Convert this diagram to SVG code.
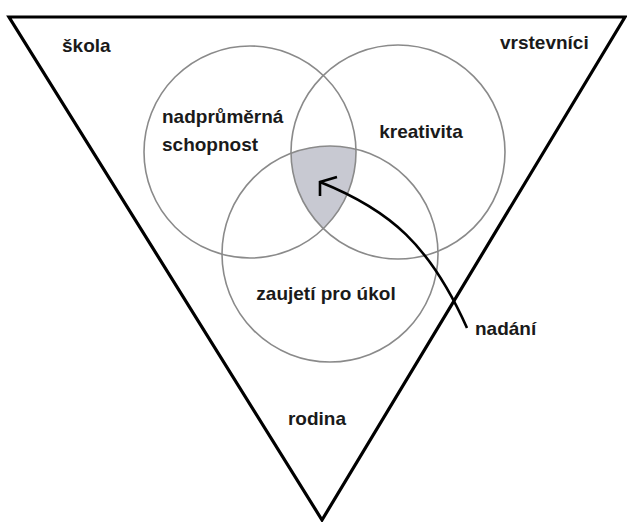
<svg xmlns="http://www.w3.org/2000/svg" width="627" height="522" viewBox="0 0 627 522">
<style>
.lbl{font-family:"Liberation Sans",Arial,sans-serif;font-weight:bold;font-size:19px;fill:#1a1a1a}
.circ{fill:none;stroke:#8a8a8a;stroke-width:1.6}
</style>
<rect width="627" height="522" fill="#ffffff"/>
<g id="triangle">
<polygon points="9,17 625,17 322,520" fill="#ffffff" stroke="#000" stroke-width="3.2" stroke-linejoin="miter"/>
<text class="lbl" x="62" y="52">škola</text>
<text class="lbl" x="500" y="49">vrstevníci</text>
<text class="lbl" x="317" y="425" text-anchor="middle">rodina</text>
</g>
<g id="shaded">
<path d="M291,153.3 A108,108 0 0,1 356,149.2 A106,106 0 0,1 323.3,228.6 A107,107 0 0,1 291,153.3 Z" fill="#c8c9d2"/>
</g>
<g id="schopnost">
<circle class="circ" cx="250" cy="152" r="106"/>
<text class="lbl" x="162" y="123">nadprůměrná</text>
<text class="lbl" x="162" y="151">schopnost</text>
</g>
<g id="kreativita">
<circle class="circ" cx="398" cy="152" r="107"/>
<text class="lbl" x="421" y="138" text-anchor="middle">kreativita</text>
</g>
<g id="zaujeti">
<circle class="circ" cx="330" cy="254" r="108"/>
<text class="lbl" x="326" y="300" text-anchor="middle">zaujetí pro úkol</text>
</g>
<g id="nadani">
<text class="lbl" x="475" y="335">nadání</text>
</g>
<g id="connectors">
<path d="M467,328 C430,245 390,210 320,182" fill="none" stroke="#000" stroke-width="2.6"/>
<path d="M337,177 L320,182 L320,196" fill="none" stroke="#000" stroke-width="2.6" stroke-linejoin="miter"/>
</g>
</svg>
